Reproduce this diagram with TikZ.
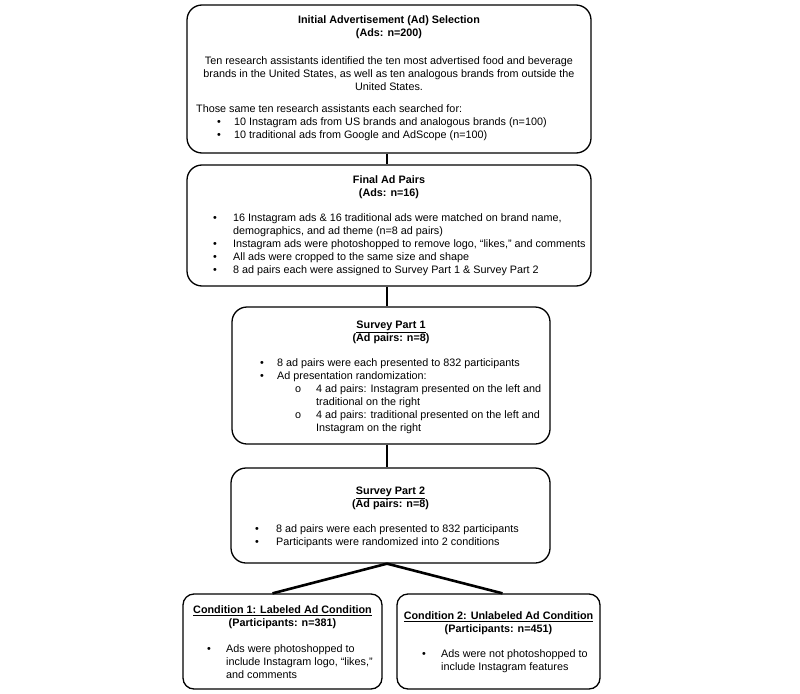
\documentclass[tikz,border=0pt]{standalone}
\usepackage{fontspec}
\setmainfont{Liberation Sans}
\begin{document}
\begin{tikzpicture}[x=1pt,y=-1pt,
  box/.style={draw, line width=1.3pt, rounded corners=15pt, inner sep=0pt},
  sbox/.style={box, rounded corners=11pt},
  conn/.style={line width=2.6pt},
  txt/.style={font=\fontsize{10.8}{13}\selectfont, inner sep=0pt},
  ttl/.style={font=\fontsize{10.8}{13}\selectfont\bfseries, inner sep=0pt, align=center, anchor=base},
  par/.style={txt, align=left, anchor=base west},
  cpar/.style={txt, align=center, anchor=base},
  dot/.style={txt, anchor=base}]
\useasboundingbox (0,0) rectangle (800,693);

% boxes
\node[box, minimum width=404pt, minimum height=148pt] (b1) at (389,79) {};
\node[box, minimum width=404pt, minimum height=121pt] (b2) at (389,225.5) {};
\node[box, minimum width=318pt, minimum height=137pt] (b3) at (391,375.5) {};
\node[box, minimum width=319pt, minimum height=95pt] (b4) at (390.5,515.5) {};
\node[sbox, minimum width=199pt, minimum height=95pt] (b5) at (282.5,641.5) {};
\node[sbox, minimum width=203pt, minimum height=95pt] (b6) at (498.5,641.5) {};

% connectors
\draw[conn] ([xshift=-2pt]b1.south) -- ([xshift=-2pt]b2.north);
\draw[conn] ([xshift=-2pt]b2.south) -- ([xshift=-4pt]b3.north);
\draw[conn] ([xshift=-4pt]b3.south) -- ([xshift=-3.5pt]b4.north);
\draw[conn] ([xshift=-3.5pt]b4.south) -- ([xshift=-10pt]b5.north);
\draw[conn] ([xshift=-3.5pt]b4.south) -- ([xshift=4pt]b6.north);

% box 1 (multi-line nodes are anchored at the baseline of their last line)
\node[ttl] (t1) at (389,36.5) {Initial Advertisement (Ad) Selection\\(Ads: n=200)};
\node[cpar] (p1) at (389,90.5) {Ten research assistants identified the ten most advertised food and beverage\\brands in the United States, as well as ten analogous brands from outside the\\United States.};
\node[par] (p1b) at (196,112.5) {Those same ten research assistants each searched for:};
\node[dot] (d1a) at (219,125.5) {•};
\node[par] (i1a) at (234,125.5) {10 Instagram ads from US brands and analogous brands (n=100)};
\node[dot] (d1b) at (219,138.5) {•};
\node[par] (i1b) at (234,138.5) {10 traditional ads from Google and AdScope (n=100)};

% box 2
\node[ttl] (t2) at (389,196.5) {Final Ad Pairs\\(Ads: n=16)};
\node[dot] (d2a) at (215,221.5) {•};
\node[par] (i2a) at (233,234.5) {16 Instagram ads \& 16 traditional ads were matched on brand name,\\demographics, and ad theme (n=8 ad pairs)};
\node[dot] (d2b) at (215,247.5) {•};
\node[par] (i2b) at (233,247.5) {Instagram ads were photoshopped to remove logo, “likes,” and comments};
\node[dot] (d2c) at (215,260.5) {•};
\node[par] (i2c) at (233,260.5) {All ads were cropped to the same size and shape};
\node[dot] (d2d) at (215,273.5) {•};
\node[par] (i2d) at (233,273.5) {8 ad pairs each were assigned to Survey Part 1 \& Survey Part 2};

% box 3
\node[ttl] (t3) at (391,341.5) {\underline{Survey Part 1}\\(Ad pairs: n=8)};
\node[dot] (d3a) at (262,366.5) {•};
\node[par] (i3a) at (277,366.5) {8 ad pairs were each presented to 832 participants};
\node[dot] (d3b) at (262,379.5) {•};
\node[par] (i3b) at (277,379.5) {Ad presentation randomization:};
\node[dot] (d3c) at (298,392.5) {o};
\node[par] (i3c) at (316,405.5) {4 ad pairs: Instagram presented on the left and\\traditional on the right};
\node[dot] (d3d) at (298,418.5) {o};
\node[par] (i3d) at (316,431.5) {4 ad pairs: traditional presented on the left and\\Instagram on the right};

% box 4
\node[ttl] (t4) at (390.5,507.5) {\underline{Survey Part 2}\\(Ad pairs: n=8)};
\node[dot] (d4a) at (257,532.5) {•};
\node[par] (i4a) at (276,532.5) {8 ad pairs were each presented to 832 participants};
\node[dot] (d4b) at (257,545.5) {•};
\node[par] (i4b) at (276,545.5) {Participants were randomized into 2 conditions};

% box 5
\node[ttl] (t5) at (282.5,626.5) {\underline{Condition 1: Labeled Ad Condition}\\(Participants: n=381)};
\node[dot] (d5a) at (209,652.5) {•};
\node[par] (i5a) at (226,678.5) {Ads were photoshopped to\\include Instagram logo, “likes,”\\and comments};

% box 6
\node[ttl] (t6) at (498.5,632.5) {\underline{Condition 2: Unlabeled Ad Condition}\\(Participants: n=451)};
\node[dot] (d6a) at (424,657.5) {•};
\node[par] (i6a) at (441,670.5) {Ads were not photoshopped to\\include Instagram features};
\end{tikzpicture}
\end{document}
